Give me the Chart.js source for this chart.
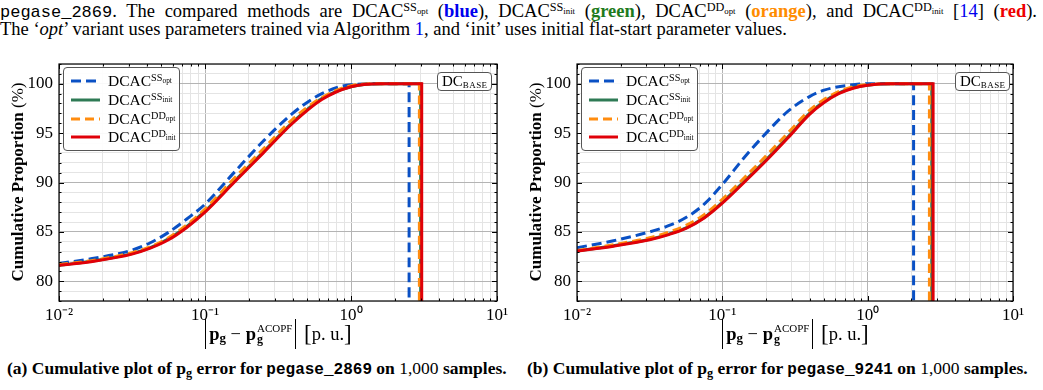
<!DOCTYPE html>
<html>
<head>
<meta charset="utf-8">
<script src="https://cdn.jsdelivr.net/npm/chart.js@4.4.0/dist/chart.umd.min.js"></script>
<style>
body { margin: 0; width: 1043px; height: 390px; background: #fff; position: relative; overflow: hidden;
       font-family: "Liberation Serif", serif; color: #000; }
.abs { position: absolute; }
sup, sub { line-height: 0; position: relative; vertical-align: baseline; }
sup { font-size: 0.66em; top: -0.5em; }
sub { font-size: 0.7em; top: 0.28em; }
sup sub { font-size: 0.72em; top: 0.3em; }
.txt { font-size: 18.5px; line-height: 20px; }
.tt { font-family: "Liberation Mono", monospace; font-size: 17px; }
.cb { color: #0000ee; } .cg { color: #1e7b1e; } .co { color: #ff8c00; } .cr { color: #ee0000; } .lk { color: #0000ee; }
.legend { position: absolute; width: 117px; height: 84px; box-sizing: border-box; border: 1px solid #555;
          border-radius: 4px; background: rgba(255,255,255,0.92); padding-top: 4px; }
.row { height: 18.7px; display: flex; align-items: center; font-size: 15.5px; }
.row svg { margin-left: 7px; margin-right: 8px; }
.dcb { position: absolute; height: 19px; box-sizing: border-box; border: 1px solid #555; border-radius: 4px;
       font-size: 15px; line-height: 17px; padding: 0 4px; background: #fff; }
.dcb sub { font-size: 9px; letter-spacing: 0.4px; top: 0.25em; }
.ytitle { position: absolute; width: 300px; height: 22px; line-height: 22px; text-align: center;
          transform: rotate(-90deg); font-size: 17px; white-space: nowrap; }
.xtitle { position: absolute; width: 300px; height: 32px; display: flex; align-items: center;
          justify-content: center; font-size: 18.5px; white-space: nowrap; }
.vb { display: inline-block; width: 0; height: 30px; border-left: 1.3px solid #000; margin: 0 3px; }
.stk { display: inline-flex; flex-direction: column; font-size: 11px; line-height: 11px; margin-left: 1px; }
.stk b { font-size: 12px; }
.brk { font-size: 23px; }
.cap { position: absolute; font-size: 17.5px; font-weight: bold; white-space: nowrap; }
.cap .ttb { font-family: "Liberation Mono", monospace; font-size: 16px; }
.cap .n { font-weight: normal; }
</style>
</head>
<body>

<div class="abs txt" style="left:0;top:1px;width:1037px;text-align:justify;text-align-last:justify;"><span class="tt">pegase_2869</span>. The compared methods are DCAC<sup>SS<sub>opt</sub></sup> (<b class="cb">blue</b>), DCAC<sup>SS<sub>init</sub></sup> (<b class="cg">green</b>), DCAC<sup>DD<sub>opt</sub></sup> (<b class="co">orange</b>), and DCAC<sup>DD<sub>init</sub></sup> [<span class="lk">14</span>] (<b class="cr">red</b>).</div>
<div class="abs txt" style="left:0;top:19px;white-space:nowrap;">The &#8216;<i>opt</i>&#8217; variant uses parameters trained via Algorithm <span class="lk">1</span>, and &#8216;init&#8217; uses initial flat-start parameter values.</div>

<canvas id="chartA" width="520" height="300" style="position:absolute;left:0;top:54px"></canvas>
<canvas id="chartB" width="520" height="300" style="position:absolute;left:520px;top:54px"></canvas>

<div class="ytitle" style="left:-132px;top:171px"><b>Cumulative Proportion</b> (%)</div>
<div class="ytitle" style="left:386px;top:171px"><b>Cumulative Proportion</b> (%)</div>

<div class="xtitle" style="left:127px;top:318px"><span class="vb"></span><b>p</b><sub><b>g</b></sub>&nbsp;&minus;&nbsp;<b>p</b><span class="stk"><span>ACOPF</span><b>g</b></span><span class="vb"></span>&nbsp;<span class="brk">[</span>p. u.<span class="brk">]</span></div>
<div class="xtitle" style="left:644px;top:318px"><span class="vb"></span><b>p</b><sub><b>g</b></sub>&nbsp;&minus;&nbsp;<b>p</b><span class="stk"><span>ACOPF</span><b>g</b></span><span class="vb"></span>&nbsp;<span class="brk">[</span>p. u.<span class="brk">]</span></div>

<div class="legend" id="legA" style="left:63px;top:67px"></div>
<div class="legend" id="legB" style="left:581px;top:67px"></div>

<div class="dcb" style="left:437px;top:72px">DC<sub>BASE</sub></div>
<div class="dcb" style="left:955px;top:72px">DC<sub>BASE</sub></div>

<div class="cap" style="left:7px;top:358px">(a) Cumulative plot of p<sub>g</sub> error for <span class="ttb">pegase_2869</span> on <span class="n">1,000</span> samples.</div>
<div class="cap" style="left:527px;top:358px">(b) Cumulative plot of p<sub>g</sub> error for <span class="ttb">pegase_9241</span> on <span class="n">1,000</span> samples.</div>

<script>
// methods, in legend order
const methodSup = ['SS', 'SS', 'DD', 'DD'];
const methodSub = ['opt', 'init', 'opt', 'init'];
const methodColor = ['#0a50c4', '#2e7a55', '#ff8c0f', '#e00008'];
const methodDash = [[10, 5], [], [9, 5], []];

// axis ticks
const xTickVals = [];
[0.01, 0.1, 1].forEach(d => { for (let k = 1; k < 10; k++) xTickVals.push(+(d * k).toPrecision(3)); });
xTickVals.push(10);
const yTickVals = [];
for (let v = 78; v <= 102; v++) yTickVals.push(v);
const yMin = 78, yMax = 102;

// pegase_2869: |pg error| sample points
const errA = [0.01, 0.0178, 0.0316, 0.0422, 0.0562, 0.075, 0.1, 0.158, 0.251, 0.398, 0.631, 1.0, 1.585];
const blueA = [81.8, 82.35, 83.15, 83.9, 84.95, 86.3, 87.8, 91.0, 94.2, 97.0, 99.0, 99.9, 100];
const greenA = [81.6, 82.1, 82.8, 83.4, 84.3, 85.55, 87.1, 90.1, 93.1, 96.1, 98.5, 99.7, 100];
const orangeA = [81.7, 82.15, 82.9, 83.5, 84.4, 85.7, 87.3, 90.4, 93.4, 96.4, 98.6, 99.8, 100];
const redA = [81.6, 82.05, 82.75, 83.35, 84.2, 85.45, 87.0, 90.0, 93.0, 96.0, 98.4, 99.7, 100];
const maxErrA = [2.5, 3.0, 2.94, 3.05];

// pegase_9241
const errB = [0.01, 0.0178, 0.0316, 0.0422, 0.0562, 0.075, 0.1, 0.141, 0.2, 0.282, 0.398, 0.501, 0.631, 0.794, 1.0, 1.413];
const blueB = [83.4, 84.1, 85.0, 85.6, 86.45, 87.8, 89.8, 92.5, 95.0, 97.2, 98.7, 99.35, 99.7, 99.9, 100, 100];
const greenB = [83.05, 83.6, 84.25, 84.75, 85.4, 86.45, 88.0, 90.1, 92.3, 94.6, 97.0, 98.2, 99.05, 99.6, 99.85, 100];
const orangeB = [83.1, 83.7, 84.4, 84.95, 85.65, 86.75, 88.3, 90.45, 92.7, 95.0, 97.3, 98.4, 99.2, 99.7, 99.9, 100];
const redB = [83.05, 83.55, 84.2, 84.7, 85.35, 86.4, 87.9, 90.0, 92.2, 94.5, 96.9, 98.1, 99.0, 99.55, 99.85, 100];
const maxErrB = [2.07, 2.76, 2.66, 2.82];

function isDecade(v) {
    const l = Math.log10(v);
    return Math.abs(l - Math.round(l)) < 1e-6;
}

const supDigits = { '-': '\u207B', '0': '\u2070', '1': '\u00B9', '2': '\u00B2' };
function decadeLabel(v) {
    const e = String(Math.round(Math.log10(v)));
    return '10' + e.split('').map(c => supDigits[c]).join('');
}

// step cdf: curve, flat at 100 up to the largest error, then straight down
function cdfPoints(xs, ys, xEnd) {
    const pts = xs.map((x, i) => ({ x: x, y: ys[i] }));
    pts.push({ x: xEnd, y: 100 }, { x: xEnd, y: yMin });
    return pts;
}

// frame and inward tick marks, drawn on top like matplotlib spines
const frameTicks = {
    id: 'frameTicks',
    afterDatasetsDraw(chart) {
        const { ctx, chartArea: a, scales: { x, y } } = chart;
        ctx.save();
        ctx.strokeStyle = '#000';
        ctx.lineWidth = 1;
        ctx.beginPath();
        x.ticks.forEach(t => {
            const px = Math.round(x.getPixelForValue(t.value)) + 0.5;
            const len = isDecade(t.value) ? 5 : 2.5;
            ctx.moveTo(px, a.bottom); ctx.lineTo(px, a.bottom - len);
            ctx.moveTo(px, a.top); ctx.lineTo(px, a.top + len);
        });
        y.ticks.forEach(t => {
            const py = Math.round(y.getPixelForValue(t.value)) + 0.5;
            const len = t.value % 5 === 0 ? 5 : 2.5;
            ctx.moveTo(a.left, py); ctx.lineTo(a.left + len, py);
            ctx.moveTo(a.right, py); ctx.lineTo(a.right - len, py);
        });
        ctx.stroke();
        ctx.lineWidth = 1.2;
        ctx.strokeRect(a.left, a.top, a.width, a.height);
        ctx.restore();
    }
};

function makeChart(id, errs, series, maxErr, yAxisWidth, padRight) {
    const datasets = series.map((ys, i) => ({
        label: 'DCAC ' + methodSup[i] + ' ' + methodSub[i],
        data: cdfPoints(errs, ys, maxErr[i]),
        borderColor: methodColor[i],
        borderDash: methodDash[i],
        borderWidth: 3,
        pointRadius: 0,
        cubicInterpolationMode: 'monotone',
        order: series.length - i
    }));
    return new Chart(document.getElementById(id).getContext('2d'), {
        type: 'line',
        data: { datasets: datasets },
        options: {
            responsive: false,
            animation: false,
            layout: { padding: { top: 10, right: padRight, left: 0, bottom: 0 } },
            plugins: { legend: { display: false }, tooltip: { enabled: false } },
            scales: {
                x: {
                    type: 'logarithmic',
                    min: 0.01,
                    max: 10,
                    afterBuildTicks: s => { s.ticks = xTickVals.map(v => ({ value: v })); },
                    afterFit: s => { s.height = 53; s.paddingLeft = 0; s.paddingRight = 0; },
                    border: { display: false },
                    grid: {
                        drawTicks: false,
                        color: c => isDecade(c.tick.value) ? '#b4b4b4' : '#e4e4e4',
                        lineWidth: 1
                    },
                    ticks: {
                        autoSkip: false,
                        maxRotation: 0,
                        padding: 4,
                        color: '#000',
                        font: { family: 'Liberation Serif', size: 17 },
                        callback: v => isDecade(v) ? decadeLabel(v) : ''
                    }
                },
                y: {
                    type: 'linear',
                    min: yMin,
                    max: yMax,
                    afterBuildTicks: s => { s.ticks = yTickVals.map(v => ({ value: v })); },
                    afterFit: s => { s.width = yAxisWidth; s.paddingTop = 0; s.paddingBottom = 0; },
                    border: { display: false },
                    grid: {
                        drawTicks: false,
                        color: c => c.tick.value % 5 === 0 ? '#b4b4b4' : '#e4e4e4',
                        lineWidth: 1
                    },
                    ticks: {
                        autoSkip: false,
                        padding: 6,
                        color: '#000',
                        font: { family: 'Liberation Serif', size: 17 },
                        callback: v => v % 5 === 0 ? String(v) : ''
                    }
                }
            }
        },
        plugins: [frameTicks]
    });
}

function fillLegend(divId, chart) {
    const box = document.getElementById(divId);
    chart.data.datasets.forEach((ds, i) => {
        const row = document.createElement('div');
        row.className = 'row';
        const dash = ds.borderDash.length ? ' stroke-dasharray="' + ds.borderDash.join(' ') + '"' : '';
        row.innerHTML = '<svg width="29" height="6"><line x1="0" y1="3" x2="29" y2="3" stroke="' + ds.borderColor +
            '" stroke-width="3"' + dash + '/></svg>' +
            '<span>DCAC<sup>' + methodSup[i] + '<sub>' + methodSub[i] + '</sub></sup></span>';
        box.appendChild(row);
    });
}

const chartA = makeChart('chartA', errA, [blueA, greenA, orangeA, redA], maxErrA, 59, 23);
const chartB = makeChart('chartB', errB, [blueB, greenB, orangeB, redB], maxErrB, 57, 27);
fillLegend('legA', chartA);
fillLegend('legB', chartB);
</script>
</body>
</html>
